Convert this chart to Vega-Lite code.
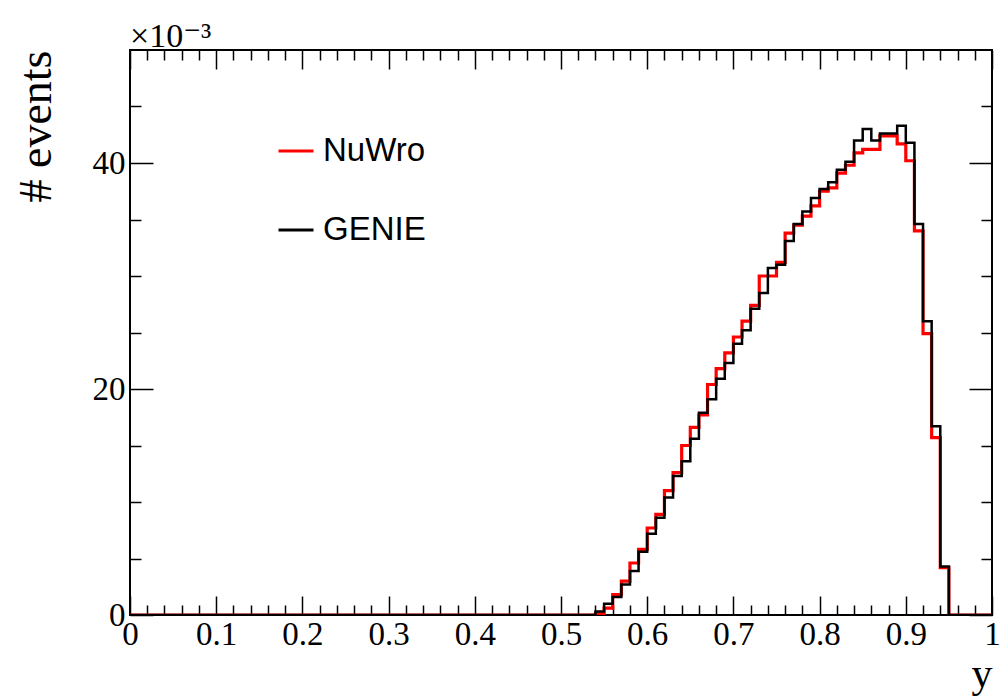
{
  "$schema": "https://vega.github.io/schema/vega-lite/v6.json",
  "width": 862,
  "height": 565,
  "autosize": "none",
  "padding": {"left": 130, "top": 50, "right": 14, "bottom": 81},
  "background": "white",
  "title": {"text": "×10⁻³", "anchor": "start", "frame": "group", "font": "Liberation Serif, DejaVu Serif", "fontSize": 34, "fontWeight": "normal", "color": "black", "offset": -5},
  "config": {
    "view": {"stroke": "black", "strokeWidth": 2},
    "axis": {"domain": false, "grid": false, "tickColor": "black", "tickWidth": 1.5, "labelFont": "Liberation Serif", "labelFontSize": 33, "labelColor": "black", "labelOverlap": false, "labelFlush": false, "labelBound": false, "titleFont": "Liberation Serif", "titleFontWeight": "normal", "titleColor": "black"},
    "legend": {"orient": "none", "legendX": 147, "legendY": 82, "padding": 0, "symbolType": "stroke", "symbolSize": 1225, "symbolStrokeWidth": 3, "labelFont": "Liberation Sans", "labelFontSize": 33, "labelColor": "black", "labelOffset": 8, "rowPadding": 43, "title": null}
  },
  "data": {"values": [
    {"x": 0.00, "NuWro": 0, "GENIE": 0}, {"x": 0.01, "NuWro": 0, "GENIE": 0}, {"x": 0.02, "NuWro": 0, "GENIE": 0}, {"x": 0.03, "NuWro": 0, "GENIE": 0}, {"x": 0.04, "NuWro": 0, "GENIE": 0},
    {"x": 0.05, "NuWro": 0, "GENIE": 0}, {"x": 0.06, "NuWro": 0, "GENIE": 0}, {"x": 0.07, "NuWro": 0, "GENIE": 0}, {"x": 0.08, "NuWro": 0, "GENIE": 0}, {"x": 0.09, "NuWro": 0, "GENIE": 0},
    {"x": 0.10, "NuWro": 0, "GENIE": 0}, {"x": 0.11, "NuWro": 0, "GENIE": 0}, {"x": 0.12, "NuWro": 0, "GENIE": 0}, {"x": 0.13, "NuWro": 0, "GENIE": 0}, {"x": 0.14, "NuWro": 0, "GENIE": 0},
    {"x": 0.15, "NuWro": 0, "GENIE": 0}, {"x": 0.16, "NuWro": 0, "GENIE": 0}, {"x": 0.17, "NuWro": 0, "GENIE": 0}, {"x": 0.18, "NuWro": 0, "GENIE": 0}, {"x": 0.19, "NuWro": 0, "GENIE": 0},
    {"x": 0.20, "NuWro": 0, "GENIE": 0}, {"x": 0.21, "NuWro": 0, "GENIE": 0}, {"x": 0.22, "NuWro": 0, "GENIE": 0}, {"x": 0.23, "NuWro": 0, "GENIE": 0}, {"x": 0.24, "NuWro": 0, "GENIE": 0},
    {"x": 0.25, "NuWro": 0, "GENIE": 0}, {"x": 0.26, "NuWro": 0, "GENIE": 0}, {"x": 0.27, "NuWro": 0, "GENIE": 0}, {"x": 0.28, "NuWro": 0, "GENIE": 0}, {"x": 0.29, "NuWro": 0, "GENIE": 0},
    {"x": 0.30, "NuWro": 0, "GENIE": 0}, {"x": 0.31, "NuWro": 0, "GENIE": 0}, {"x": 0.32, "NuWro": 0, "GENIE": 0}, {"x": 0.33, "NuWro": 0, "GENIE": 0}, {"x": 0.34, "NuWro": 0, "GENIE": 0},
    {"x": 0.35, "NuWro": 0, "GENIE": 0}, {"x": 0.36, "NuWro": 0, "GENIE": 0}, {"x": 0.37, "NuWro": 0, "GENIE": 0}, {"x": 0.38, "NuWro": 0, "GENIE": 0}, {"x": 0.39, "NuWro": 0, "GENIE": 0},
    {"x": 0.40, "NuWro": 0, "GENIE": 0}, {"x": 0.41, "NuWro": 0, "GENIE": 0}, {"x": 0.42, "NuWro": 0, "GENIE": 0}, {"x": 0.43, "NuWro": 0, "GENIE": 0}, {"x": 0.44, "NuWro": 0, "GENIE": 0},
    {"x": 0.45, "NuWro": 0, "GENIE": 0}, {"x": 0.46, "NuWro": 0, "GENIE": 0}, {"x": 0.47, "NuWro": 0, "GENIE": 0}, {"x": 0.48, "NuWro": 0, "GENIE": 0}, {"x": 0.49, "NuWro": 0, "GENIE": 0},
    {"x": 0.50, "NuWro": 0, "GENIE": 0}, {"x": 0.51, "NuWro": 0, "GENIE": 0}, {"x": 0.52, "NuWro": 0, "GENIE": 0}, {"x": 0.53, "NuWro": 0, "GENIE": 0},
    {"x": 0.54, "NuWro": 0.1, "GENIE": 0.3}, {"x": 0.55, "NuWro": 0.6, "GENIE": 1.0}, {"x": 0.56, "NuWro": 1.8, "GENIE": 1.6}, {"x": 0.57, "NuWro": 3.0, "GENIE": 2.7}, {"x": 0.58, "NuWro": 4.6, "GENIE": 3.9},
    {"x": 0.59, "NuWro": 5.8, "GENIE": 5.6}, {"x": 0.60, "NuWro": 7.7, "GENIE": 7.2}, {"x": 0.61, "NuWro": 8.9, "GENIE": 8.6}, {"x": 0.62, "NuWro": 11.0, "GENIE": 10.4}, {"x": 0.63, "NuWro": 12.6, "GENIE": 12.3},
    {"x": 0.64, "NuWro": 15.0, "GENIE": 13.6}, {"x": 0.65, "NuWro": 16.6, "GENIE": 15.6}, {"x": 0.66, "NuWro": 17.7, "GENIE": 17.9}, {"x": 0.67, "NuWro": 20.4, "GENIE": 19.1}, {"x": 0.68, "NuWro": 21.8, "GENIE": 20.9},
    {"x": 0.69, "NuWro": 23.2, "GENIE": 22.3}, {"x": 0.70, "NuWro": 24.6, "GENIE": 24.0}, {"x": 0.71, "NuWro": 26.0, "GENIE": 25.2}, {"x": 0.72, "NuWro": 27.4, "GENIE": 27.1}, {"x": 0.73, "NuWro": 30.0, "GENIE": 28.5},
    {"x": 0.74, "NuWro": 30.0, "GENIE": 30.7}, {"x": 0.75, "NuWro": 31.2, "GENIE": 31.0}, {"x": 0.76, "NuWro": 33.8, "GENIE": 33.1}, {"x": 0.77, "NuWro": 34.5, "GENIE": 34.6}, {"x": 0.78, "NuWro": 35.3, "GENIE": 35.7},
    {"x": 0.79, "NuWro": 36.2, "GENIE": 36.9}, {"x": 0.80, "NuWro": 37.5, "GENIE": 37.7}, {"x": 0.81, "NuWro": 37.8, "GENIE": 38.3}, {"x": 0.82, "NuWro": 39.1, "GENIE": 39.4}, {"x": 0.83, "NuWro": 39.8, "GENIE": 40.1},
    {"x": 0.84, "NuWro": 40.9, "GENIE": 42.0}, {"x": 0.85, "NuWro": 41.2, "GENIE": 43.0}, {"x": 0.86, "NuWro": 41.2, "GENIE": 42.0}, {"x": 0.87, "NuWro": 42.4, "GENIE": 42.6}, {"x": 0.88, "NuWro": 42.4, "GENIE": 42.6},
    {"x": 0.89, "NuWro": 41.7, "GENIE": 43.3}, {"x": 0.90, "NuWro": 40.2, "GENIE": 41.8}, {"x": 0.91, "NuWro": 34.0, "GENIE": 34.6}, {"x": 0.92, "NuWro": 24.9, "GENIE": 26.0}, {"x": 0.93, "NuWro": 15.7, "GENIE": 16.7},
    {"x": 0.94, "NuWro": 4.2, "GENIE": 4.3}, {"x": 0.95, "NuWro": 0, "GENIE": 0}, {"x": 0.96, "NuWro": 0, "GENIE": 0}, {"x": 0.97, "NuWro": 0, "GENIE": 0}, {"x": 0.98, "NuWro": 0, "GENIE": 0},
    {"x": 0.99, "NuWro": 0, "GENIE": 0}, {"x": 1.00, "NuWro": 0, "GENIE": 0}
  ]},
  "transform": [{"fold": ["NuWro", "GENIE"], "as": ["model", "events"]}],
  "layer": [
    {
      "transform": [{"filter": "datum.model === 'NuWro'"}],
      "mark": {"type": "line", "interpolate": "step-after", "strokeWidth": 3.2, "clip": true},
      "encoding": {
        "x": {"field": "x", "type": "quantitative", "scale": {"domain": [0, 1], "nice": false, "zero": false},
              "axis": {"orient": "bottom", "values": [0, 0.1, 0.2, 0.3, 0.4, 0.5, 0.6, 0.7, 0.8, 0.9, 1], "format": "~g", "tickSize": -19, "labelPadding": 22, "title": "y", "titleFontSize": 42, "titleAnchor": "end", "titleAlign": "right", "titlePadding": 2}},
        "y": {"field": "events", "type": "quantitative", "scale": {"domain": [0, 50], "nice": false},
              "axis": {"orient": "left", "values": [0, 20, 40], "format": "d", "tickSize": -23, "labelPadding": 28, "title": "# events", "titleFontSize": 46, "titleAnchor": "end", "titlePadding": 32}},
        "color": {"field": "model", "type": "nominal", "scale": {"domain": ["NuWro", "GENIE"], "range": ["#ff0000", "#000000"]}}
      }
    },
    {
      "transform": [{"filter": "datum.model === 'GENIE'"}],
      "mark": {"type": "line", "interpolate": "step-after", "strokeWidth": 2.5, "clip": true},
      "encoding": {
        "x": {"field": "x", "type": "quantitative",
              "axis": {"orient": "bottom", "values": [0.02, 0.04, 0.06, 0.08, 0.12, 0.14, 0.16, 0.18, 0.22, 0.24, 0.26, 0.28, 0.32, 0.34, 0.36, 0.38, 0.42, 0.44, 0.46, 0.48, 0.52, 0.54, 0.56, 0.58, 0.62, 0.64, 0.66, 0.68, 0.72, 0.74, 0.76, 0.78, 0.82, 0.84, 0.86, 0.88, 0.92, 0.94, 0.96, 0.98], "tickSize": -10, "labels": false, "title": null}},
        "y": {"field": "events", "type": "quantitative",
              "axis": {"orient": "left", "values": [5, 10, 15, 25, 30, 35, 45], "tickSize": -11, "labels": false, "title": null}},
        "color": {"field": "model", "type": "nominal"}
      }
    },
    {
      "mark": {"type": "point", "opacity": 0},
      "encoding": {
        "x": {"field": "x", "type": "quantitative",
              "axis": {"orient": "top", "values": [0, 0.1, 0.2, 0.3, 0.4, 0.5, 0.6, 0.7, 0.8, 0.9, 1], "tickSize": -19, "labels": false, "title": null}},
        "y": {"field": "events", "type": "quantitative",
              "axis": {"orient": "right", "values": [0, 20, 40], "tickSize": -23, "labels": false, "title": null}}
      }
    },
    {
      "mark": {"type": "point", "opacity": 0},
      "encoding": {
        "x": {"field": "x", "type": "quantitative",
              "axis": {"orient": "top", "values": [0.02, 0.04, 0.06, 0.08, 0.12, 0.14, 0.16, 0.18, 0.22, 0.24, 0.26, 0.28, 0.32, 0.34, 0.36, 0.38, 0.42, 0.44, 0.46, 0.48, 0.52, 0.54, 0.56, 0.58, 0.62, 0.64, 0.66, 0.68, 0.72, 0.74, 0.76, 0.78, 0.82, 0.84, 0.86, 0.88, 0.92, 0.94, 0.96, 0.98], "tickSize": -10, "labels": false, "title": null}},
        "y": {"field": "events", "type": "quantitative",
              "axis": {"orient": "right", "values": [5, 10, 15, 25, 30, 35, 45], "tickSize": -11, "labels": false, "title": null}}
      }
    }
  ],
  "resolve": {"axis": {"x": "independent", "y": "independent"}}
}
